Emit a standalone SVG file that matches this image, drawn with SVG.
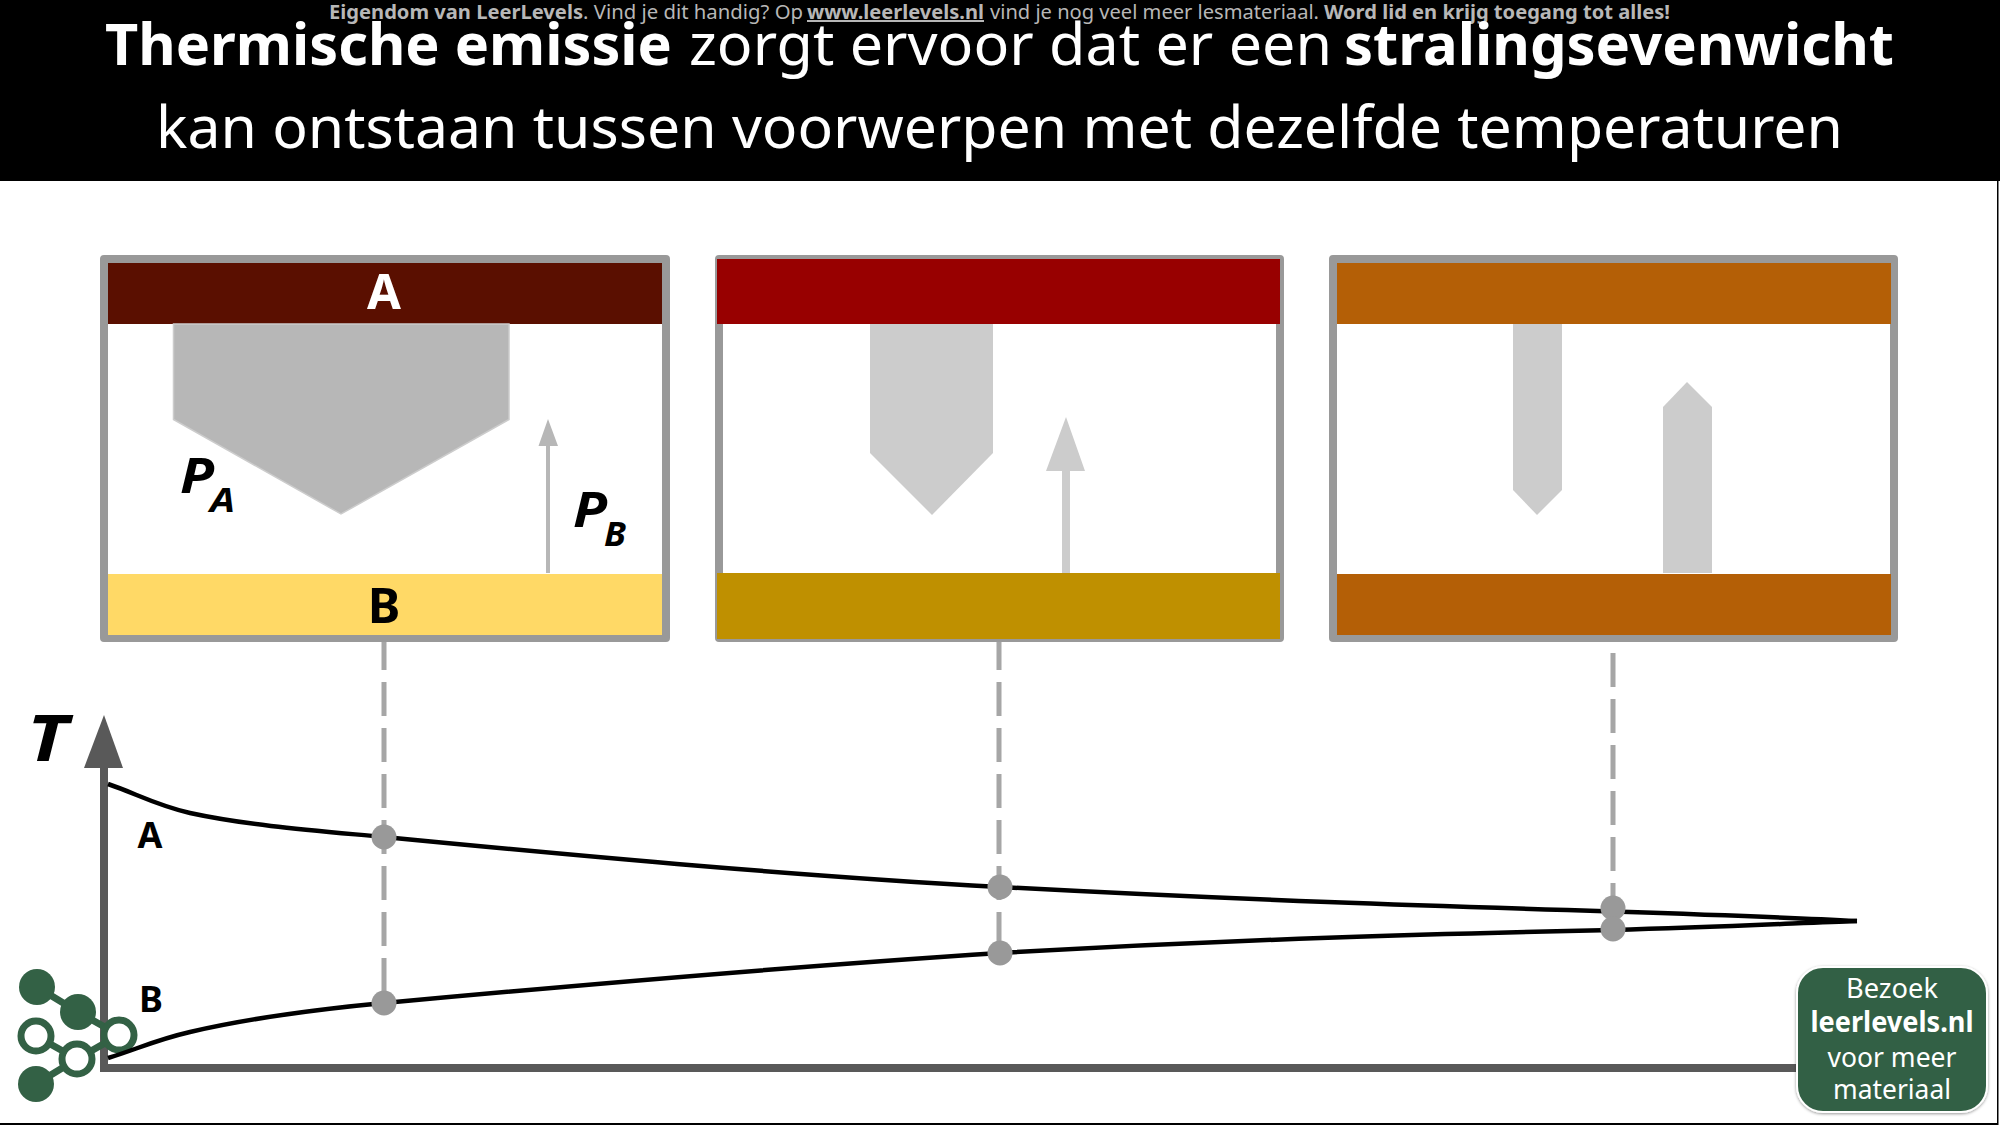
<svg xmlns="http://www.w3.org/2000/svg" width="2000" height="1125" viewBox="0 0 2000 1125">
<style>
text{font-family:"Noto Sans","Open Sans","DejaVu Sans",sans-serif}
.b{font-weight:700}
.h{font-size:58px;fill:#fff}
.t{font-size:20px;fill:#b7b7b7}
.f{fill:#fff;stroke:#999;stroke-width:8;stroke-linejoin:round}
.m{text-anchor:middle}
.i{font-style:italic;font-weight:700;fill:#000}
.c{fill:none;stroke:#000;stroke-width:4.5}
.d{fill:none;stroke:#a6a6a6;stroke-width:5;stroke-dasharray:34 12}
.p{fill:#999}
.g{fill:#336145}
.o{fill:#fff;stroke:#336145;stroke-width:7}
.w{font-size:28px;fill:#fff;text-anchor:middle}
.a{fill:#ccc}
</style>
<defs>
<filter id="sh" x="-10%" y="-10%" width="120%" height="120%"><feDropShadow dx="0" dy="1" stdDeviation="1.5" flood-color="#000" flood-opacity="0.4"/></filter>
</defs>
<rect width="2000" height="1125" fill="#fff"/>
<g id="frame"><rect x="0" y="1123" width="1998" height="2" fill="#000"/><rect x="1997" y="181" width="1.5" height="944" fill="#000"/></g>
<g id="header">
<rect width="2000" height="181" fill="#000"/>
<text class="t b" x="329" y="19" textLength="254" lengthAdjust="spacingAndGlyphs">Eigendom van LeerLevels</text>
<text class="t" x="583" y="19" textLength="220" lengthAdjust="spacingAndGlyphs">. Vind je dit handig? Op</text>
<text class="t b" x="807" y="19" textLength="177" lengthAdjust="spacingAndGlyphs" text-decoration="underline">www.leerlevels.nl</text>
<text class="t" x="990" y="19" textLength="329" lengthAdjust="spacingAndGlyphs">vind je nog veel meer lesmateriaal.</text>
<text class="t b" x="1324" y="19" textLength="346" lengthAdjust="spacingAndGlyphs">Word lid en krijg toegang tot alles!</text>
<text class="h b" x="105" y="65" textLength="567" lengthAdjust="spacingAndGlyphs">Thermische emissie</text>
<text class="h" x="689" y="65" textLength="643" lengthAdjust="spacingAndGlyphs">zorgt ervoor dat er een</text>
<text class="h b" x="1344" y="65" textLength="550" lengthAdjust="spacingAndGlyphs">stralingsevenwicht</text>
<text class="h" x="156" y="148" textLength="1687" lengthAdjust="spacingAndGlyphs">kan ontstaan tussen voorwerpen met dezelfde temperaturen</text>
</g>
<g id="connectors">
<path class="d" d="M384 642V1003" stroke-dashoffset="6"/>
<path class="d" d="M999 642V953" stroke-dashoffset="6"/>
<path class="d" d="M1613 653V908"/>
</g>
<g id="axes">
<path d="M104 1068V765" fill="none" stroke="#595959" stroke-width="8"/>
<path d="M104 715L123 768H84Z" fill="#595959"/>
<path d="M100 1068H1796" fill="none" stroke="#595959" stroke-width="8"/>
<text class="i" x="27" y="761" font-size="64" textLength="41" lengthAdjust="spacingAndGlyphs">T</text>
</g>
<g id="logo">
<path d="M37 987L78 1012L119 1035L77 1059L36 1084M36 1036L77 1059" fill="none" stroke="#336145" stroke-width="7"/>
<circle class="g" cx="37" cy="987" r="18"/><circle class="g" cx="78" cy="1012" r="18"/><circle class="g" cx="36" cy="1084" r="18"/>
<circle class="o" cx="36" cy="1036" r="15"/><circle class="o" cx="119" cy="1035" r="15"/><circle class="o" cx="77" cy="1059" r="15"/>
</g>
<g id="curves">
<path class="c" d="M108 784C135 793 155 805 190 813C250 826 320 831 384 837C600 858 800 876 1000 887C1240 900 1430 906 1613 911.500C1720 915 1800 918 1857 921"/>
<path class="c" d="M108 1058C135 1050 155 1040 190 1032C250 1018 320 1009 384 1003C600 983 800 966 1000 953C1240 939 1430 934 1613 930C1720 927 1800 923 1857 921"/>
<text class="b m" x="150" y="848" font-size="36">A</text>
<text class="b m" x="151" y="1012" font-size="36">B</text>
<circle class="p" cx="384" cy="837" r="12.5"/><circle class="p" cx="384" cy="1003" r="12.5"/>
<circle class="p" cx="1000" cy="887" r="12.5"/><circle class="p" cx="1000" cy="953" r="12.5"/>
<circle class="p" cx="1613" cy="908" r="12.5"/><circle class="p" cx="1613" cy="929" r="12.5"/>
</g>
<g id="panel-1">
<rect class="f" x="104" y="259" width="562" height="379"/>
<rect x="108" y="263" width="554" height="61" fill="#5a0f00"/>
<rect x="108" y="574" width="554" height="61" fill="#ffd966"/>
<path d="M173.500 324H509V419.500L341 514L173.500 419.500Z" fill="#b7b7b7" stroke="#ccc" stroke-width="1.500"/>
<path d="M546 573V446H538.500L548 419L558 446H550V573Z" fill="#b7b7b7"/>
<text class="b m" x="384" y="309" font-size="49" fill="#fff">A</text>
<text class="b m" x="384" y="623" font-size="49" fill="#000">B</text>
<text class="i" x="180" y="493" font-size="49" textLength="34" lengthAdjust="spacingAndGlyphs">P</text><text class="i" x="210" y="512" font-size="34" textLength="25" lengthAdjust="spacingAndGlyphs">A</text>
<text class="i" x="573" y="527" font-size="49" textLength="34" lengthAdjust="spacingAndGlyphs">P</text><text class="i" x="604" y="546" font-size="34" textLength="22" lengthAdjust="spacingAndGlyphs">B</text>
</g>
<g id="panel-2">
<rect class="f" x="719" y="259" width="561" height="379"/>
<rect x="717" y="259" width="563" height="65" fill="#980000"/>
<rect x="717" y="573" width="563" height="66" fill="#bf9000"/>
<path class="a" d="M870 324H993V453L932 515L870 453Z"/>
<path class="a" d="M1062 573V471H1046L1066 417L1085 471H1070V573Z"/>
</g>
<g id="panel-3">
<rect class="f" x="1333" y="259" width="561" height="379"/>
<rect x="1337" y="263" width="554" height="61" fill="#b45f06"/>
<rect x="1337" y="574" width="554" height="61" fill="#b45f06"/>
<path class="a" d="M1513 324H1562V490L1537 515L1513 490Z"/>
<path class="a" d="M1663 573V407L1687 382L1712 407V573Z"/>
</g>
<g id="cta">
<rect x="1797" y="967" width="190" height="145" rx="26" fill="#336145" stroke="#fff" stroke-width="2" filter="url(#sh)"/>
<text class="w" x="1892" y="998" textLength="92" lengthAdjust="spacingAndGlyphs">Bezoek</text>
<text class="w b" x="1892" y="1032" textLength="163" lengthAdjust="spacingAndGlyphs">leerlevels.nl</text>
<text class="w" x="1892" y="1067" textLength="129" lengthAdjust="spacingAndGlyphs">voor meer</text>
<text class="w" x="1892" y="1099" textLength="118" lengthAdjust="spacingAndGlyphs">materiaal</text>
</g>
</svg>
